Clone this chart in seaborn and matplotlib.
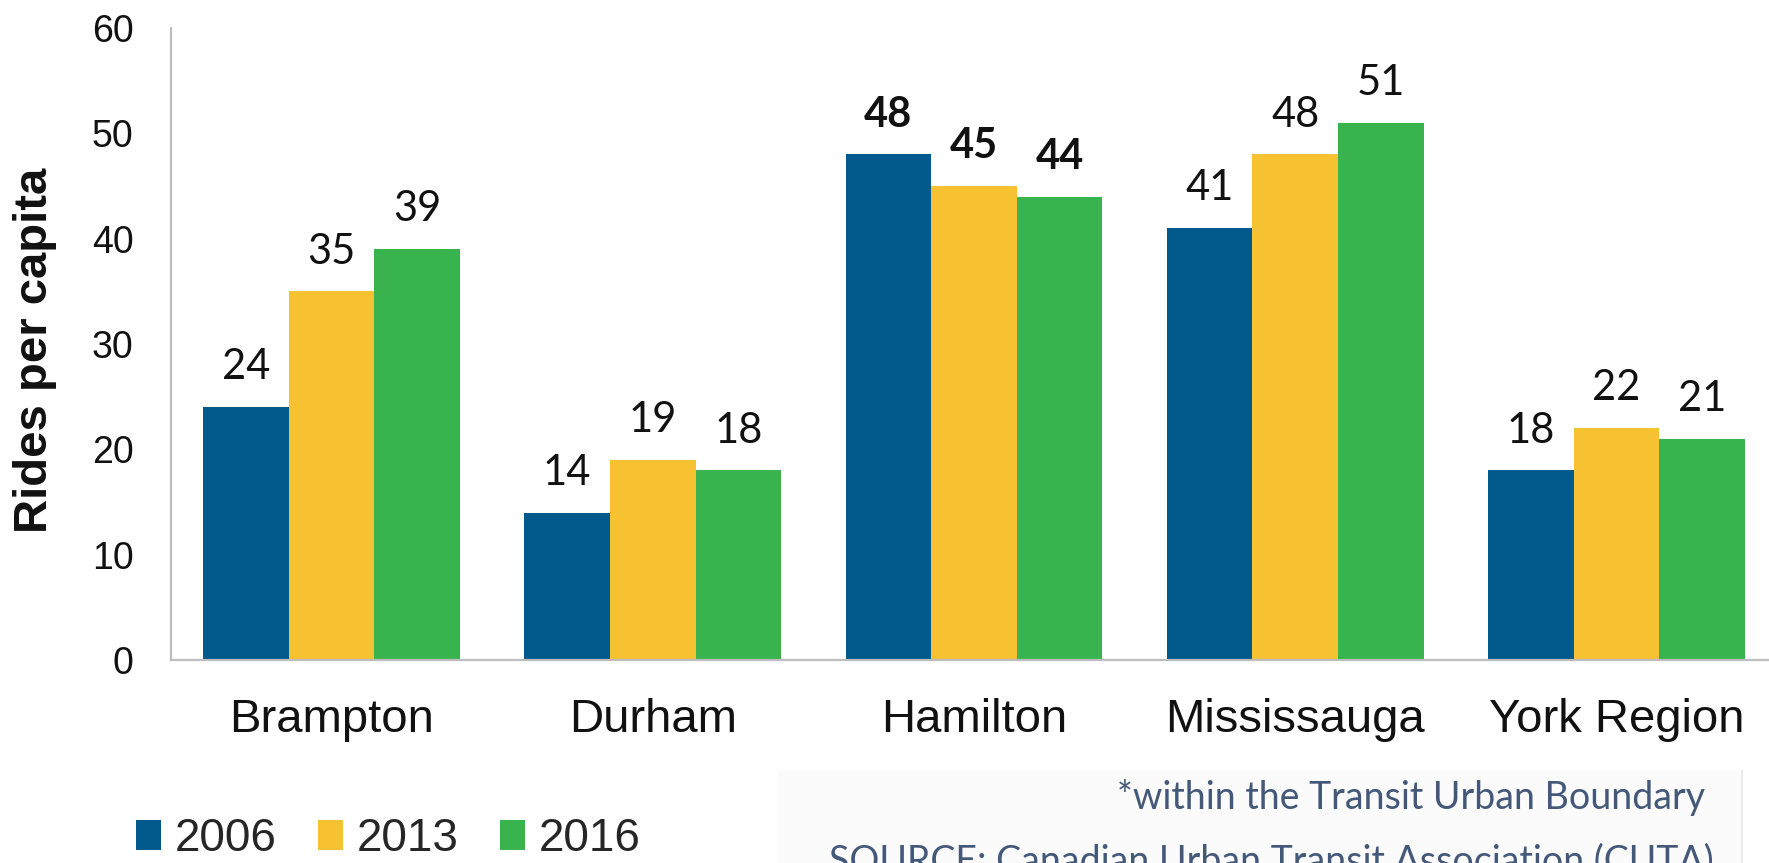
import pandas as pd
import matplotlib.pyplot as plt
import seaborn as sns
from matplotlib.patches import Rectangle

sns.set_style("white")

# ---------------------------------------------------
# Data: transit rides per capita
# ---------------------------------------------------
regions = ["Brampton", "Durham", "Hamilton", "Mississauga", "York Region"]
years = ["2006", "2013", "2016"]
rides_2006 = [24, 14, 48, 41, 18]
rides_2013 = [35, 19, 45, 48, 22]
rides_2016 = [39, 18, 44, 51, 21]
bold_region = "Hamilton"

colors = ["#02598C", "#F6C231", "#38B34D"]

df = pd.DataFrame({
    "Region": regions * 3,
    "Year": [y for y in years for _ in regions],
    "Rides": rides_2006 + rides_2013 + rides_2016,
})

# ---------------------------------------------------
# Figure
# ---------------------------------------------------
W, H = 1769, 863
fig = plt.figure(figsize=(W / 100, H / 100), dpi=100)
ax = fig.add_axes([171 / W, (H - 660) / H, 1606 / W, 632 / H])

sns.barplot(data=df, x="Region", y="Rides", hue="Year", palette=colors,
            width=0.8, gap=0, saturation=1, linewidth=0, ax=ax, legend=True)

ax.set_xlim(-0.5, 4.5)
ax.set_ylim(0, 60)
ax.set_yticks(range(0, 61, 10))

sans = "Liberation Sans"
for lab in ax.get_yticklabels():
    lab.set_fontfamily(sans)
    lab.set_fontsize(27)
for lab in ax.get_xticklabels():
    lab.set_fontfamily(sans)
    lab.set_fontsize(34)
ax.tick_params(axis="y", length=0, pad=27, colors="#111111")
ax.tick_params(axis="x", length=0, pad=27, colors="#111111")

ax.set_xlabel("")
ax.set_ylabel("Rides per capita", fontsize=34, fontweight="bold",
              fontfamily=sans, color="#111111")
ax.yaxis.set_label_coords(-0.071, 0.49)

for side in ["top", "right"]:
    ax.spines[side].set_visible(False)
for side in ["left", "bottom"]:
    ax.spines[side].set_color("#BDBDBD")
    ax.spines[side].set_linewidth(1.6)

# value labels
bold_idx = regions.index(bold_region)
for cont in ax.containers:
    texts = ax.bar_label(cont, fmt="%d", padding=15, fontsize=30,
                         fontfamily="Lato", color="#111111")
    texts[bold_idx].set_fontweight("bold")

# legend
handles, labels = ax.get_legend_handles_labels()
ax.legend(handles, labels, ncol=3, frameon=False, loc="lower left",
          bbox_to_anchor=(136 / W, 2 / H), bbox_transform=fig.transFigure,
          prop={"family": sans, "size": 33}, handlelength=0.55, handleheight=0.62,
          handletextpad=0.3, columnspacing=0.9, borderpad=0, borderaxespad=0)

# source box
fig.patches.append(Rectangle((778 / W, 0), (1742 - 778) / W, (H - 770) / H,
                             transform=fig.transFigure, facecolor="#FBFBFC",
                             edgecolor="none", zorder=0))
fig.add_artist(plt.Line2D([1742 / W, 1742 / W], [0, (H - 770) / H],
                          transform=fig.transFigure, color="#E8E8E8", lw=1.2))
fig.text(1705 / W, (H - 797) / H, "*within the Transit Urban Boundary",
         ha="right", va="center", fontsize=27, fontfamily="Lato", color="#44587A")
fig.text(1714 / W, (H - 843) / H, "SOURCE: Canadian Urban Transit Association (CUTA)",
         ha="right", va="top", fontsize=27, fontfamily="Lato", color="#44587A")

plt.savefig("out.png", dpi=100)
plt.close()
